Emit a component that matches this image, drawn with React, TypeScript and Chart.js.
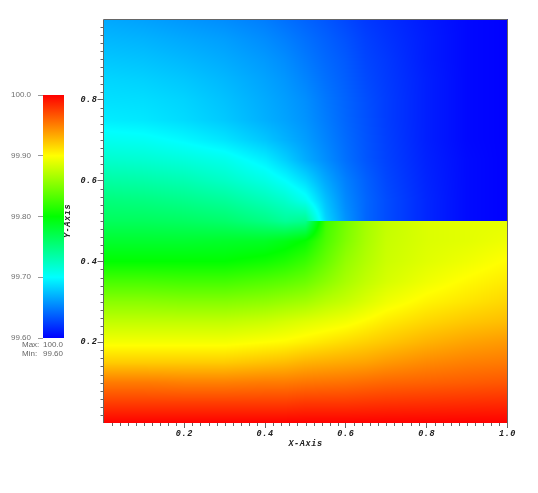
import React, { useEffect, useRef } from "react";
import { Chart, registerables } from "chart.js";

Chart.register(...registerables);

// Field values, stored as thousandths above 99 (e.g. 764 = 99.764).
const GRID_X = [0, 0.1, 0.2, 0.3, 0.4, 0.45, 0.5, 0.55, 0.6, 0.65, 0.7, 0.8, 0.9, 1];
const UPPER_Y = [1, 0.95, 0.9, 0.85, 0.8, 0.75, 0.7, 0.65, 0.6, 0.55, 0.5];
const LOWER_Y = [0.5, 0.45, 0.4, 0.35, 0.3, 0.25, 0.2, 0.15, 0.1, 0.05, 0];
const UPPER_ROWS = [
  [666, 663, 659, 655, 649, 644, 639, 634, 628, 622, 618, 610, 603, 600],
  [672, 670, 666, 662, 655, 650, 644, 638, 632, 625, 620, 611, 603, 600],
  [678, 676, 672, 667, 660, 655, 648, 641, 635, 627, 622, 611, 603, 600],
  [684, 682, 678, 672, 664, 659, 652, 644, 637, 629, 623, 612, 603, 600],
  [688, 687, 683, 676, 667, 662, 656, 647, 639, 631, 624, 612, 603, 600],
  [693, 691, 686, 679, 669, 664, 658, 649, 640, 632, 624, 612, 603, 600],
  [706, 704, 698, 690, 678, 670, 662, 652, 642, 633, 625, 612, 603, 600],
  [720, 718, 714, 708, 694, 682, 668, 656, 644, 634, 626, 613, 604, 600],
  [736, 734, 730, 722, 710, 700, 686, 666, 650, 638, 628, 614, 604, 600],
  [752, 750, 746, 740, 728, 720, 706, 676, 654, 640, 630, 615, 604, 600],
  [764, 764, 762, 758, 748, 740, 744, 684, 658, 640, 630, 615, 604, 600],
];
const LOWER_ROWS = [
  [764, 764, 762, 758, 748, 740, 744, 824, 846, 864, 876, 886, 889, 890],
  [782, 782, 782, 784, 786, 792, 802, 830, 850, 866, 878, 886, 889, 894],
  [800, 800, 800, 800, 806, 812, 822, 840, 858, 870, 880, 888, 894, 901],
  [828, 828, 826, 826, 832, 836, 842, 854, 866, 876, 884, 894, 902, 908],
  [854, 854, 852, 852, 856, 860, 864, 872, 878, 886, 894, 904, 910, 916],
  [876, 876, 876, 876, 880, 884, 888, 892, 896, 902, 908, 916, 922, 926],
  [896, 896, 896, 896, 900, 902, 906, 910, 914, 918, 922, 930, 936, 940],
  [920, 920, 920, 920, 924, 926, 930, 932, 934, 936, 940, 946, 950, 952],
  [952, 952, 950, 950, 952, 952, 954, 955, 956, 958, 960, 962, 964, 966],
  [976, 976, 976, 976, 976, 976, 978, 978, 978, 979, 980, 981, 982, 983],
  [1000, 1000, 1000, 1000, 1000, 1000, 1000, 1000, 1000, 1000, 1000, 1000, 1000, 1000],
];
const X_TICKS = [0.2, 0.4, 0.6, 0.8, 1.0];
const Y_TICKS = [0.2, 0.4, 0.6, 0.8];
const LEGEND_TICKS = [99.6, 99.7, 99.8, 99.9, 100];
const LEGEND_LABELS = ["99.60", "99.70", "99.80", "99.90", "100.0"];
const LEGEND_MIN = 99.6;
const LEGEND_MAX = 100;
const STATS = ["Max:  100.0", "Min:  99.60"];
const RAMP = [
  [0, 0, 255],
  [0, 255, 255],
  [0, 255, 0],
  [255, 255, 0],
  [255, 0, 0],
];

const colorAt = (v: number) => {
  const t = Math.min(1, Math.max(0, (v - LEGEND_MIN) / (LEGEND_MAX - LEGEND_MIN))) * (RAMP.length - 1);
  const i = Math.min(RAMP.length - 2, Math.floor(t));
  const f = t - i;
  return RAMP[i].map((c, k) => Math.round(c + (RAMP[i + 1][k] - c) * f));
};

const toPoints = (ys: number[], rows: number[][]) =>
  ys.flatMap((y, r) => GRID_X.map((x, c) => ({ x, y, v: 99 + rows[r][c] / 1000 })));

const findCell = (axis: number[], value: number) => {
  const asc = axis[0] < axis[axis.length - 1];
  let i = 0;
  while (i < axis.length - 2 && (asc ? value > axis[i + 1] : value < axis[i + 1])) i++;
  return { i, f: Math.min(1, Math.max(0, (value - axis[i]) / (axis[i + 1] - axis[i]))) };
};

const heatPlugin = {
  id: "heat",
  beforeDraw(chart: any) {
    chart.ctx.letterSpacing = "0.6px";
  },
  beforeDatasetsDraw(chart: any) {
    const { ctx, chartArea: a, scales } = chart;
    const w = Math.round(a.right - a.left);
    const h = Math.round(a.bottom - a.top);
    const off = document.createElement("canvas");
    off.width = w;
    off.height = h;
    const octx = off.getContext("2d")!;
    const img = octx.createImageData(w, h);
    const upper = chart.data.datasets[0].data;
    const lower = chart.data.datasets[1].data;
    const nc = GRID_X.length;
    for (let py = 0; py < h; py++) {
      const yv = scales.y.getValueForPixel(a.top + py + 0.5);
      const isUp = yv >= 0.5;
      const ys = isUp ? UPPER_Y : LOWER_Y;
      const pts = isUp ? upper : lower;
      const ry = findCell(ys, yv);
      for (let px = 0; px < w; px++) {
        const xv = scales.x.getValueForPixel(a.left + px + 0.5);
        const cx = findCell(GRID_X, xv);
        const at = (r: number, c: number) => pts[r * nc + c].v;
        const top = at(ry.i, cx.i) * (1 - cx.f) + at(ry.i, cx.i + 1) * cx.f;
        const bot = at(ry.i + 1, cx.i) * (1 - cx.f) + at(ry.i + 1, cx.i + 1) * cx.f;
        const [r, g, b] = colorAt(top * (1 - ry.f) + bot * ry.f);
        const o = (py * w + px) * 4;
        img.data[o] = r;
        img.data[o + 1] = g;
        img.data[o + 2] = b;
        img.data[o + 3] = 255;
      }
    }
    octx.putImageData(img, 0, 0);
    ctx.drawImage(off, a.left, a.top);
  },
  afterDatasetsDraw(chart: any) {
    const { ctx, chartArea: a, scales } = chart;
    ctx.save();
    ctx.strokeStyle = "#666666";
    ctx.lineWidth = 1;
    ctx.beginPath();
    ctx.moveTo(Math.floor(a.left) + 0.5, a.bottom);
    ctx.lineTo(Math.floor(a.left) + 0.5, Math.floor(a.top) + 0.5);
    ctx.lineTo(Math.floor(a.right) + 0.5, Math.floor(a.top) + 0.5);
    ctx.lineTo(Math.floor(a.right) + 0.5, a.bottom);
    ctx.stroke();
    ctx.beginPath();
    for (let k = 1; k < 50; k++) {
      const v = k / 50;
      if (k % 10 !== 0) {
        const px = Math.round(scales.x.getPixelForValue(v)) + 0.5;
        ctx.moveTo(px, a.bottom);
        ctx.lineTo(px, a.bottom + 3);
        const py = Math.round(scales.y.getPixelForValue(v)) + 0.5;
        ctx.moveTo(a.left, py);
        ctx.lineTo(a.left - 3, py);
      }
    }
    ctx.stroke();
    ctx.restore();
  },
};

const statsPlugin = {
  id: "stats",
  afterDraw(chart: any) {
    const { ctx, chartArea: a } = chart;
    ctx.save();
    ctx.font = '8px "Liberation Sans"';
    ctx.fillStyle = "#666666";
    ctx.textBaseline = "middle";
    STATS.forEach((s, i) => {
      const [name, value] = s.split(/\s+/);
      ctx.textAlign = "left";
      ctx.fillText(name, 22, a.bottom + 7 + i * 9);
      ctx.textAlign = "right";
      ctx.fillText(value, 63, a.bottom + 7 + i * 9);
    });
    ctx.restore();
  },
};

const axisFont = { family: '"Liberation Mono"', size: 8.5, weight: "bold" as const, style: "italic" as const };

export default function App() {
  const mainRef = useRef<HTMLCanvasElement>(null);
  const legendRef = useRef<HTMLCanvasElement>(null);

  useEffect(() => {
    const main = new Chart(mainRef.current!, {
      type: "scatter",
      data: {
        datasets: [
          { label: "upper", data: toPoints(UPPER_Y, UPPER_ROWS), pointRadius: 0 },
          { label: "lower", data: toPoints(LOWER_Y, LOWER_ROWS), pointRadius: 0 },
        ],
      },
      plugins: [heatPlugin],
      options: {
        responsive: false,
        animation: false,
        events: [],
        layout: { padding: { top: 19, right: 30.5, left: 0, bottom: 0 } },
        plugins: { legend: { display: false }, tooltip: { enabled: false } },
        scales: {
          x: {
            type: "linear",
            min: 0,
            max: 1,
            afterBuildTicks: (s: any) => {
              s.ticks = X_TICKS.map((value) => ({ value }));
            },
            afterFit: (s: any) => {
              s.height = 70;
            },
            border: { display: false },
            grid: { drawOnChartArea: false, tickLength: 5, tickColor: "#666666" },
            ticks: {
              color: "#222222",
              font: axisFont,
              padding: 1,
              maxRotation: 0,
              autoSkip: false,
              callback: (v: any) => Number(v).toFixed(1),
            },
            title: { display: true, text: "X-Axis", color: "#222222", font: axisFont, padding: { top: 0, bottom: 44 } },
          },
          y: {
            type: "linear",
            min: 0,
            max: 1,
            afterBuildTicks: (s: any) => {
              s.ticks = Y_TICKS.map((value) => ({ value }));
            },
            afterFit: (s: any) => {
              s.width = 103.5;
            },
            border: { display: false },
            grid: { drawOnChartArea: false, tickLength: 6, tickColor: "#666666" },
            ticks: {
              color: "#222222",
              font: axisFont,
              padding: 0,
              autoSkip: false,
              callback: (v: any) => Number(v).toFixed(1),
            },
            title: { display: true, text: "Y-Axis", color: "#222222", font: axisFont, padding: { top: 63, bottom: 0 } },
          },
        },
      },
    } as any);

    const legend = new Chart(legendRef.current!, {
      type: "bar",
      data: {
        labels: ["value"],
        datasets: [
          {
            data: [[LEGEND_MIN, LEGEND_MAX]],
            barPercentage: 1,
            categoryPercentage: 1,
            backgroundColor: (c: any) => {
              const { chart } = c;
              if (!chart.chartArea) return "#000";
              const y = chart.scales.y;
              const g = chart.ctx.createLinearGradient(0, y.getPixelForValue(LEGEND_MIN), 0, y.getPixelForValue(LEGEND_MAX));
              RAMP.forEach((rgb, i) => g.addColorStop(i / (RAMP.length - 1), `rgb(${rgb.join(",")})`));
              return g;
            },
          },
        ],
      },
      plugins: [statsPlugin],
      options: {
        responsive: false,
        animation: false,
        events: [],
        layout: { padding: { top: 15, right: 4, left: 0, bottom: 32 } },
        plugins: { legend: { display: false }, tooltip: { enabled: false } },
        scales: {
          x: { display: false },
          y: {
            type: "linear",
            min: LEGEND_MIN,
            max: LEGEND_MAX,
            afterBuildTicks: (s: any) => {
              s.ticks = LEGEND_TICKS.map((value) => ({ value }));
            },
            afterFit: (s: any) => {
              s.width = 43;
            },
            border: { display: false },
            grid: { drawOnChartArea: false, tickLength: 5, tickColor: "#999999" },
            ticks: {
              color: "#6e6e6e",
              font: { family: '"Liberation Sans"', size: 8 },
              padding: 7,
              autoSkip: false,
              callback: (v: any) => LEGEND_LABELS[LEGEND_TICKS.findIndex((t) => Math.abs(t - Number(v)) < 1e-6)],
            },
          },
        },
      },
    } as any);

    return () => {
      main.destroy();
      legend.destroy();
    };
  }, []);

  return (
    <>
      <canvas ref={mainRef} width={538} height={493} style={{ position: "absolute", left: 0, top: 0, display: "block" }} />
      <canvas ref={legendRef} width={68} height={290} style={{ position: "absolute", left: 0, top: 80, display: "block" }} />
    </>
  );
}
